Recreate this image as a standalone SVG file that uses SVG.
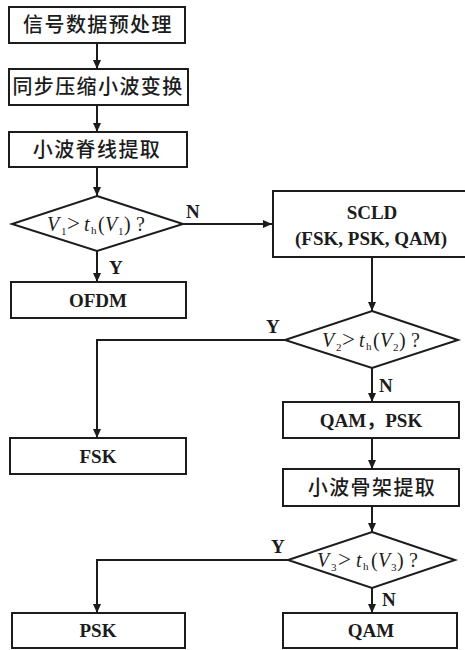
<svg xmlns="http://www.w3.org/2000/svg" width="465" height="650" viewBox="0 0 465 650">
  <style>
    .box { fill: #ffffff; stroke: #1c1c1c; stroke-width: 2; }
    .dia { fill: #ffffff; stroke: #1c1c1c; stroke-width: 2; stroke-linejoin: miter; }
    .line { fill: none; stroke: #1c1c1c; stroke-width: 2; }
    .cjk { font-family: "Noto Sans CJK SC", sans-serif; font-weight: 500; font-size: 20px; fill: #1c1c1c; text-anchor: middle; letter-spacing: 1.4px; }
    .lat { font-family: "Liberation Serif", "Noto Sans CJK SC", serif; font-weight: bold; font-size: 19px; fill: #1c1c1c; text-anchor: middle; }
    .lbl { font-family: "Liberation Serif", serif; font-weight: bold; font-size: 19px; fill: #1c1c1c; }
    .cond { font-family: "Liberation Serif", serif; font-size: 20px; fill: #1c1c1c; }
    .it { font-style: italic; }
    .sub { font-size: 11px; }
    .gt { font-size: 23px; }
  </style>
  <defs>
    <marker id="arrow" markerWidth="9" markerHeight="8" refX="9" refY="4" orient="auto" markerUnits="userSpaceOnUse">
      <path d="M0,0 L9,4 L0,8 Z" fill="#1c1c1c"/>
    </marker>
  </defs>

  <rect width="465" height="650" fill="#ffffff"/>

  <g id="connectors">
    <line class="line" x1="97" y1="43" x2="97" y2="69" marker-end="url(#arrow)"/>
    <line class="line" x1="97" y1="105" x2="97" y2="132" marker-end="url(#arrow)"/>
    <line class="line" x1="97" y1="167" x2="97" y2="196" marker-end="url(#arrow)"/>
    <line class="line" x1="183" y1="224" x2="272" y2="224" marker-end="url(#arrow)"/>
    <line class="line" x1="97" y1="251" x2="97" y2="282" marker-end="url(#arrow)"/>
    <line class="line" x1="372" y1="258" x2="372" y2="311" marker-end="url(#arrow)"/>
    <polyline class="line" points="285,340 97,340 97,438" marker-end="url(#arrow)"/>
    <line class="line" x1="372" y1="368" x2="372" y2="402" marker-end="url(#arrow)"/>
    <line class="line" x1="372" y1="438" x2="372" y2="469" marker-end="url(#arrow)"/>
    <line class="line" x1="372" y1="506" x2="372" y2="532" marker-end="url(#arrow)"/>
    <polyline class="line" points="288,560 97,560 97,613" marker-end="url(#arrow)"/>
    <line class="line" x1="372" y1="588" x2="372" y2="613" marker-end="url(#arrow)"/>
    <text class="lbl" x="186" y="218">N</text>
    <text class="lbl" x="109" y="274">Y</text>
    <text class="lbl" x="266" y="333">Y</text>
    <text class="lbl" x="379" y="392">N</text>
    <text class="lbl" x="271" y="553">Y</text>
    <text class="lbl" x="382" y="606">N</text>
  </g>

  <g id="preprocess">
    <rect class="box" x="9" y="7" width="176" height="36"/>
    <text class="cjk" x="98" y="32">信号数据预处理</text>
  </g>
  <g id="sst">
    <rect class="box" x="9" y="69" width="179" height="36"/>
    <text class="cjk" x="98" y="94">同步压缩小波变换</text>
  </g>
  <g id="ridge">
    <rect class="box" x="9" y="132" width="178" height="35"/>
    <text class="cjk" x="97" y="157">小波脊线提取</text>
  </g>
  <g id="decision1">
    <polygon class="dia" points="97,196 183,224 97,251 12,224"/>
    <text class="cond" y="7" transform="translate(97,224)"><tspan class="it" x="-50">V</tspan><tspan class="sub" x="-36" dy="4">1</tspan><tspan class="gt" x="-30" dy="-4">&gt;</tspan><tspan class="it" x="-13">t</tspan><tspan class="sub" x="-6" dy="3">h</tspan><tspan x="1" dy="-3">(</tspan><tspan class="it" x="8">V</tspan><tspan class="sub" x="21" dy="4">1</tspan><tspan x="27" dy="-4">)</tspan><tspan x="39">?</tspan></text>
  </g>
  <g id="ofdm">
    <rect class="box" x="11" y="282" width="175" height="36"/>
    <text class="lat" x="98" y="307">OFDM</text>
  </g>
  <g id="scld">
    <rect class="box" x="273" y="191" width="200" height="66"/>
    <text class="lat" x="372" y="219">SCLD</text>
    <text class="lat" x="371" y="245">(FSK, PSK, QAM)</text>
  </g>
  <g id="decision2">
    <polygon class="dia" points="372,311 458,340 372,368 285,340"/>
    <text class="cond" y="7" transform="translate(372,340)"><tspan class="it" x="-50">V</tspan><tspan class="sub" x="-36" dy="4">2</tspan><tspan class="gt" x="-30" dy="-4">&gt;</tspan><tspan class="it" x="-13">t</tspan><tspan class="sub" x="-6" dy="3">h</tspan><tspan x="1" dy="-3">(</tspan><tspan class="it" x="8">V</tspan><tspan class="sub" x="21" dy="4">2</tspan><tspan x="27" dy="-4">)</tspan><tspan x="39">?</tspan></text>
  </g>
  <g id="fsk">
    <rect class="box" x="10" y="438" width="176" height="36"/>
    <text class="lat" x="98" y="463">FSK</text>
  </g>
  <g id="qam-psk">
    <rect class="box" x="283" y="402" width="176" height="36"/>
    <text class="lat" x="371" y="427">QAM，PSK</text>
  </g>
  <g id="skeleton">
    <rect class="box" x="283" y="469" width="176" height="37"/>
    <text class="cjk" x="372" y="495">小波骨架提取</text>
  </g>
  <g id="decision3">
    <polygon class="dia" points="372,532 455,560 372,588 288,560"/>
    <text class="cond" y="7" transform="translate(372,560)"><tspan class="it" x="-55">V</tspan><tspan class="sub" x="-41" dy="4">3</tspan><tspan class="gt" x="-34" dy="-4">&gt;</tspan><tspan class="it" x="-16">t</tspan><tspan class="sub" x="-9" dy="3">h</tspan><tspan x="-1" dy="-3">(</tspan><tspan class="it" x="6">V</tspan><tspan class="sub" x="19" dy="4">3</tspan><tspan x="25" dy="-4">)</tspan><tspan x="37">?</tspan></text>
  </g>
  <g id="psk">
    <rect class="box" x="12" y="613" width="173" height="35"/>
    <text class="lat" x="98" y="637">PSK</text>
  </g>
  <g id="qam">
    <rect class="box" x="283" y="613" width="174" height="35"/>
    <text class="lat" x="371" y="637">QAM</text>
  </g>
</svg>
